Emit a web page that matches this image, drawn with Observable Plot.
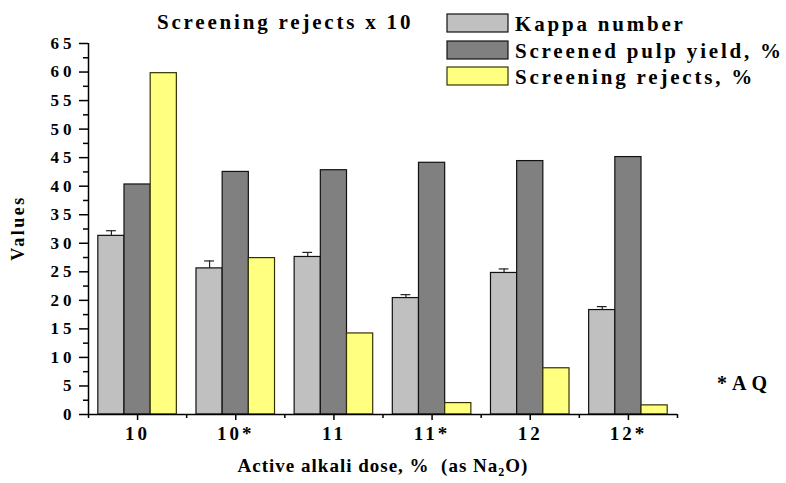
<!DOCTYPE html>
<html><head><meta charset="utf-8">
<script src="https://cdn.jsdelivr.net/npm/d3@7"></script>
<script src="https://cdn.jsdelivr.net/npm/@observablehq/plot@0.6"></script>
<style>
body{margin:0;background:#fff}
#chart svg text{font-family:"Liberation Serif","Times New Roman",serif;font-weight:bold;fill:#000}
</style></head><body><div id="chart"></div>
<script>
const categories = ["10","10*","11","11*","12","12*"];
const seriesNames = ["Kappa number","Screened pulp yield, %","Screening rejects, %"];
const kappa = [31.3,25.6,27.6,20.4,24.8,18.3];
const kappaErr = [0.9,1.3,0.8,0.6,0.7,0.6];
const yieldPct = [40.3,42.5,42.8,44.1,44.4,45.1];
const rejects = [59.8,27.4,14.2,2.0,8.1,1.6];
const yTicks = d3.range(0,66,5);
const yMinor = d3.range(2.5,65,5);
const colors = ["#c0c0c0","#808080","#ffff80"];
const strokes = ["#111","#111","#333300"];

const seriesValues = [kappa, yieldPct, rejects];
const bw = 0.8/3;
const bars = [];
categories.forEach((c,i)=>seriesValues.forEach((vals,k)=>bars.push({
  cat:c, series:seriesNames[k], k, value:vals[i],
  x1:i+0.1+k*bw, x2:i+0.1+(k+1)*bw
})));
const errs = categories.map((c,i)=>({xc:i+0.1+bw/2, lo:kappa[i], hi:kappa[i]+kappaErr[i]}));

const plot = Plot.plot({
  width:786, height:483,
  marginLeft:88, marginRight:109, marginTop:43, marginBottom:69,
  x:{type:"linear", domain:[0,6]},
  y:{domain:[0,65]},
  style:{background:"#fff"},
  marks:[
    Plot.rectY(bars,{x1:"x1",x2:"x2",y1:0,y2:"value",fill:d=>colors[d.k],stroke:d=>strokes[d.k],strokeWidth:1.2}),
    Plot.ruleX(errs,{x:"xc",y1:"lo",y2:"hi",stroke:"#222",strokeWidth:1.2}),
    Plot.ruleY(errs,{y:"hi",x1:d=>d.xc-0.05,x2:d=>d.xc+0.05,stroke:"#222",strokeWidth:1.2}),
    Plot.ruleX([0],{y1:0,y2:65,stroke:"#000",strokeWidth:1.5}),
    Plot.ruleY([0],{x1:0,x2:6,stroke:"#000",strokeWidth:1.5}),
    Plot.axisY({ticks:yTicks,tickSize:9,tickPadding:4,strokeWidth:1.5,label:null}),
    Plot.axisY({ticks:yMinor,tickSize:5,tickFormat:()=>"",strokeWidth:1.5,label:null}),
    Plot.axisX({ticks:d3.range(0.5,6,1),tickSize:6,tickPadding:6,strokeWidth:1.5,tickFormat:d=>categories[Math.floor(d)],label:null}),
    Plot.axisX({ticks:d3.range(0,7,1),tickSize:4,tickFormat:()=>"",strokeWidth:1.5,label:null})
  ]
});
document.getElementById("chart").appendChild(plot);
const svg = d3.select(plot);
svg.selectAll("text").each(function(){
  const p = this.parentNode.getAttribute("aria-label") || "";
  const t = d3.select(this);
  if (p.startsWith("y")) t.style("font-size","17px").style("letter-spacing","4px");
  else t.style("font-size","19px").style("letter-spacing","3px");
});

function txt(x,y,size,ls,s,anchor){
  return svg.append("text").attr("x",x).attr("y",y).attr("text-anchor",anchor||"start")
    .style("font-size",size+"px").style("letter-spacing",ls+"px").text(s);
}
// title
txt(157,29,21,2.8,"Screening rejects x 10");
// legend
const ly = [14,41,67];
seriesNames.forEach((s,k)=>{
  svg.append("rect").attr("x",447).attr("y",ly[k]).attr("width",61).attr("height",18)
    .attr("fill",colors[k]).attr("stroke",strokes[k]).attr("stroke-width",1.2);
  txt(515,ly[k]+17,21,2.8,s);
});
// axis titles
const xt = svg.append("text").attr("x",383).attr("y",472).attr("text-anchor","middle")
  .style("font-size","19px").style("letter-spacing","1px");
xt.append("tspan").text("Active alkali dose, %  (as Na");
xt.append("tspan").style("font-size","12px").attr("dy",4).text("2");
xt.append("tspan").attr("dy",-4).text("O)");
svg.append("text").attr("transform","translate(24,228) rotate(-90)").attr("text-anchor","middle")
  .style("font-size","18px").style("letter-spacing","2.5px").text("Values");
txt(717,390,20,5,"*AQ");
</script></body></html>
